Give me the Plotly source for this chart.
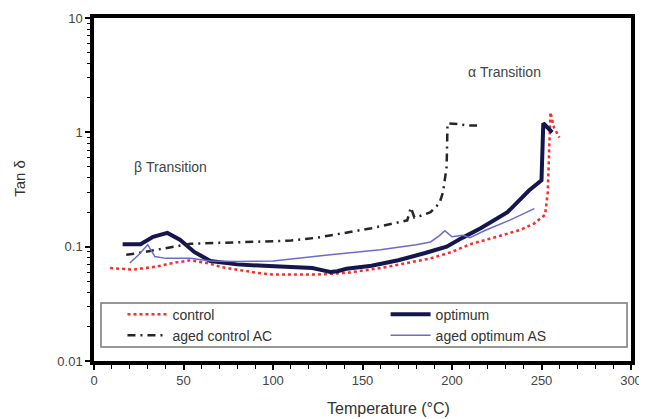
import math
import plotly.graph_objects as go

control_x = [9, 22, 35, 44, 54, 63, 72, 82, 91, 100, 110, 124, 141, 160, 175, 188, 200, 210, 225, 238, 246, 252, 253.5, 254.5, 255, 257, 260]
control_y = [0.065, 0.063, 0.067, 0.072, 0.076, 0.072, 0.066, 0.062, 0.059, 0.057, 0.057, 0.057, 0.059, 0.065, 0.072, 0.079, 0.09, 0.105, 0.122, 0.14, 0.16, 0.19, 0.3, 0.7, 1.5, 1.1, 0.9]

optimum_x = [16, 26, 33, 41, 48, 56, 65, 80, 95, 110, 122, 128, 132, 136, 141, 155, 170, 185, 197, 206, 216, 231, 243, 250, 251, 256]
optimum_y = [0.105, 0.105, 0.122, 0.132, 0.115, 0.09, 0.075, 0.07, 0.068, 0.066, 0.065, 0.062, 0.06, 0.061, 0.064, 0.068, 0.076, 0.088, 0.1, 0.12, 0.145, 0.2, 0.31, 0.38, 1.2, 1.0]

agedc_x = [18, 25, 35, 45, 54, 70, 90, 110, 125, 141, 155, 169, 175, 177, 179, 182, 188, 193, 195, 197, 197.5, 203, 208, 214]
agedc_y = [0.085, 0.088, 0.094, 0.1, 0.106, 0.108, 0.11, 0.113, 0.12, 0.132, 0.145, 0.162, 0.17, 0.22, 0.18, 0.185, 0.2, 0.24, 0.3, 0.5, 1.2, 1.18, 1.15, 1.15]

ageds_x = [20, 25, 30, 34, 40, 54, 65, 80, 100, 115, 132, 160, 180, 188, 193, 196, 200, 206, 210, 219, 232, 246]
ageds_y = [0.072, 0.085, 0.104, 0.082, 0.079, 0.079, 0.075, 0.074, 0.075, 0.08, 0.085, 0.094, 0.104, 0.11, 0.125, 0.138, 0.122, 0.126, 0.12, 0.14, 0.17, 0.215]

x_ticks = [0, 50, 100, 150, 200, 250, 300]
y_ticks = [0.01, 0.1, 1, 10]
y_labels = ["0.01", "0.1", "1", "10"]

FONT = "Liberation Sans, Arial, sans-serif"

fig = go.Figure()
fig.add_trace(go.Scatter(x=control_x, y=control_y, mode="lines", name="control", legend="legend",
                         line=dict(color="#ff2a2a", width=2.5, dash="dot")))
fig.add_trace(go.Scatter(x=optimum_x, y=optimum_y, mode="lines", name="optimum", legend="legend2",
                         line=dict(color="#16164f", width=4)))
fig.add_trace(go.Scatter(x=agedc_x, y=agedc_y, mode="lines", name="aged control AC", legend="legend",
                         line=dict(color="#262626", width=2.5, dash="8px,5px,2px,5px")))
fig.add_trace(go.Scatter(x=ageds_x, y=ageds_y, mode="lines", name="aged optimum AS", legend="legend2",
                         line=dict(color="#6a6ad0", width=1.5)))

fig.add_shape(type="rect", xref="paper", yref="paper", x0=0.013, x1=0.9926, y0=0.041, y1=0.169,
              line=dict(color="#777", width=1.5), fillcolor="rgba(0,0,0,0)")

fig.add_annotation(x=42.5, y=math.log10(0.5), text="β Transition", showarrow=False,
                   font=dict(family=FONT, size=14, color="#444"))
fig.add_annotation(x=229.6, y=math.log10(3.4), text="α Transition", showarrow=False,
                   font=dict(family=FONT, size=14, color="#444"))
fig.add_annotation(xref="paper", yref="paper", x=-0.138, y=0.534, text="Tan δ", textangle=-90,
                   showarrow=False, xanchor="center", yanchor="middle",
                   font=dict(family=FONT, size=15, color="#333"))
fig.add_annotation(xref="paper", yref="paper", x=(388 - 94) / 537, y=(361 - 408) / 343,
                   text="Temperature (°C)", showarrow=False, xanchor="center", yanchor="middle",
                   font=dict(family=FONT, size=16, color="#333"))

leg_common = dict(orientation="v", yanchor="top", xanchor="left", itemwidth=40,
                  bgcolor="rgba(0,0,0,0)", borderwidth=0,
                  font=dict(family=FONT, size=14, color="#333"), tracegroupgap=0)

fig.update_layout(
    width=639, height=411,
    margin=dict(l=86, r=16, t=10, b=58),
    paper_bgcolor="white", plot_bgcolor="white",
    font=dict(family=FONT, size=13, color="#444"),
    showlegend=True,
    legend=dict(x=0.053, y=0.182, **leg_common),
    legend2=dict(x=0.543, y=0.182, **leg_common),
    xaxis=dict(range=[0, 300], tickvals=x_ticks, ticktext=[str(v) for v in x_ticks],
               automargin=False,
               showgrid=False, zeroline=False, showline=True, linecolor="black", linewidth=3.5,
               mirror=True, ticks="outside", ticklen=5, tickcolor="black", tickwidth=1.5,
               minor=dict(dtick=10, ticks="outside", ticklen=4, tickcolor="black", tickwidth=1),
               tickfont=dict(size=13, color="#444")),
    yaxis=dict(type="log", range=[-2, 1], tickvals=y_ticks, ticktext=y_labels,
               automargin=False,
               showgrid=False, zeroline=False, showline=True, linecolor="black", linewidth=3.5,
               mirror=True, ticks="outside", ticklen=5, tickcolor="black", tickwidth=1.5,
               minor=dict(dtick="D1", ticks="outside", ticklen=3, tickcolor="black", tickwidth=1),
               tickfont=dict(size=13, color="#444")),
)

fig.write_html("out.html")
